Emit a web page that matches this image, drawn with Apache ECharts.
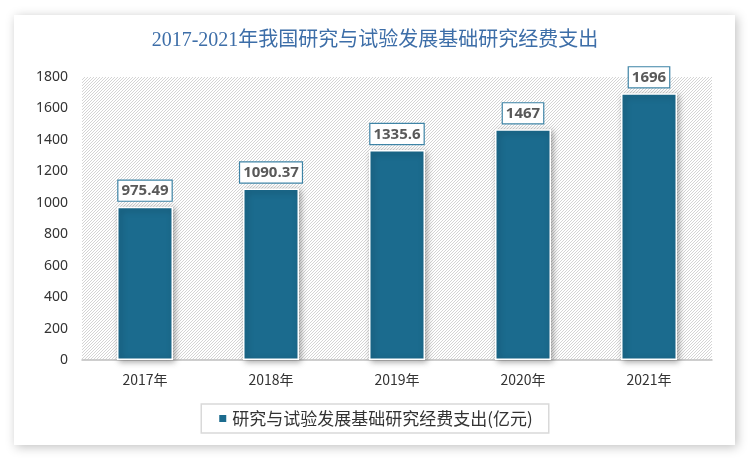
<!DOCTYPE html>
<html><head><meta charset="utf-8">
<script src="https://cdn.jsdelivr.net/npm/echarts@6/dist/echarts.min.js"></script>
<style>html,body{margin:0;padding:0;background:#fff}#c{width:750px;height:461px}</style>
</head><body><div id="c"></div>
<script>
const categories = ['2017年','2018年','2019年','2020年','2021年'];
const values = [975.49, 1090.37, 1335.6, 1467, 1696];
const labels = ['975.49','1090.37','1335.6','1467','1696'];
const yTicks = [0,200,400,600,800,1000,1200,1400,1600,1800];
const seriesName = '研究与试验发展基础研究经费支出(亿元)';
const titleText = '2017-2021年我国研究与试验发展基础研究经费支出';

const pc = document.createElement('canvas');
pc.width = 6; pc.height = 6;
const g = pc.getContext('2d');
g.fillStyle = '#ffffff'; g.fillRect(0,0,6,6);
g.strokeStyle = '#d4d4d4'; g.lineWidth = 1;
g.beginPath();
for (let k=-6;k<=12;k+=3){ g.moveTo(k,6); g.lineTo(k+6,0); }
g.stroke();

const chart = echarts.init(document.getElementById('c'), null, {renderer:'canvas'});
chart.setOption({
  backgroundColor:'#ffffff',
  animation:false,
  graphic:[{type:'rect',z:-10,shape:{x:14,y:15,width:721,height:430},
    style:{fill:'#fff',shadowBlur:10,shadowColor:'rgba(0,0,0,0.25)',shadowOffsetX:2,shadowOffsetY:2}}],
  title:{text:titleText,left:'center',top:26,
    textStyle:{fontFamily:'"Liberation Serif","Noto Sans CJK SC"',fontSize:20,fontWeight:'normal',color:'#3d6ea8'}},
  grid:{left:82,right:38,top:77,bottom:101,show:true,borderWidth:0,backgroundColor:{image:pc,repeat:'repeat'}},
  legend:{bottom:28,left:'center',itemWidth:9,itemHeight:9,icon:'rect',
    padding:[6,16,6,16],borderColor:'#d9d9d9',borderWidth:1.5,itemGap:10,
    textStyle:{fontSize:17,color:'#333',fontFamily:'"Noto Sans CJK SC"'},
    data:[seriesName]},
  xAxis:{type:'category',data:categories,axisTick:{show:false},
    axisLine:{lineStyle:{color:'#bfbfbf',width:1.5}},
    axisLabel:{fontSize:14,color:'#333',margin:13,fontFamily:'"Noto Sans CJK SC"'}},
  yAxis:{type:'value',min:0,max:1800,interval:200,splitLine:{show:false},
    axisLabel:{fontSize:14,color:'#333',margin:14,fontFamily:'"Noto Sans","DejaVu Sans"',
      formatter:v=>yTicks.includes(v)?String(v):''}},
  series:[{name:seriesName,type:'bar',data:values,barWidth:56,
    itemStyle:{color:'#1b6b8e',borderColor:'#ffffff',borderWidth:1.5,
      shadowBlur:6,shadowColor:'rgba(0,0,0,0.35)',shadowOffsetX:2,shadowOffsetY:2},
    label:{show:true,position:'top',distance:6,
      formatter:p=>labels[p.dataIndex],
      fontSize:15,fontWeight:'bold',color:'#595959',fontFamily:'"Open Sans","DejaVu Sans"',
      backgroundColor:'#fff',borderColor:'#3e84a6',borderWidth:1.2,padding:[3,3,2,3]}}]
});
</script></body></html>
